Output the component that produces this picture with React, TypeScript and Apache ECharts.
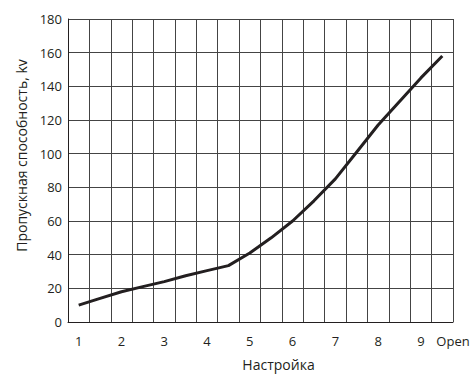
import React, { useEffect, useRef } from "react";
import * as echarts from "echarts";

// Setting positions (half steps) and measured capacity
const settings = ["1", "1.5", "2", "2.5", "3", "3.5", "4", "4.5", "5", "5.5", "6", "6.5", "7", "7.5", "8", "8.5", "9", "9.5"];
const capacity = [10, 14, 18, 21, 24, 27.5, 30.5, 33.5, 41, 50, 60, 72, 85, 101, 117, 131, 145, 158];
const openLabel = "Open";
const openPosition = 9.75;
const xName = "Настройка";
const yName = "Пропускная способность, kv";
const yMin = 0;
const yMax = 180;
const yStep = 20;

const TEXT = "#231f20";
const GRID = "#444444";
const FONT = "'Open Sans', sans-serif";

export default function App() {
  const ref = useRef<HTMLDivElement>(null);
  useEffect(() => {
    if (!ref.current) return;
    const chart = echarts.init(ref.current, undefined, { renderer: "svg" });
    chart.setOption({
      animation: false,
      backgroundColor: "#ffffff",
      grid: { left: 68, right: 17, top: 19, bottom: 52, containLabel: false, outerBoundsMode: "none" },
      xAxis: [
        {
          type: "category",
          data: settings,
          boundaryGap: true,
          axisLine: { show: true, lineStyle: { color: TEXT, width: 1 } },
          axisTick: { show: false },
          splitLine: { show: true, interval: 0, lineStyle: { color: GRID, width: 1 } },
          axisLabel: {
            interval: 0,
            margin: 12,
            color: TEXT,
            fontSize: 13,
            fontFamily: FONT,
            formatter: (v: string) => (Number.isInteger(Number(v)) ? v : ""),
          },
          name: xName,
          nameLocation: "middle",
          nameGap: 35,
          nameTextStyle: { color: TEXT, fontSize: 14, fontFamily: FONT, padding: [0, 0, 0, 36] },
        },
        {
          type: "value",
          min: 0.75,
          max: openPosition,
          position: "bottom",
          axisLine: { show: false },
          axisTick: { show: false },
          splitLine: { show: false },
          axisLabel: {
            margin: 12,
            color: TEXT,
            fontSize: 13,
            fontFamily: FONT,
            showMaxLabel: true,
            formatter: (v: number) => (Math.abs(v - openPosition) < 1e-6 ? openLabel : ""),
          },
        },
      ],
      yAxis: {
        type: "value",
        min: yMin,
        max: yMax,
        interval: yStep,
        axisLine: { show: true, lineStyle: { color: TEXT, width: 1 } },
        axisTick: { show: false },
        splitLine: { show: true, lineStyle: { color: GRID, width: 1 } },
        axisLabel: { margin: 6, color: TEXT, fontSize: 13, fontFamily: FONT },
        name: yName,
        nameLocation: "middle",
        nameGap: 40,
        nameTextStyle: { color: TEXT, fontSize: 14, fontFamily: FONT, padding: [0, 0, 0, 30] },
      },
      series: [
        {
          type: "line",
          xAxisIndex: 0,
          data: capacity,
          symbol: "none",
          lineStyle: { color: TEXT, width: 3 },
          z: 5,
        },
      ],
    });
    return () => chart.dispose();
  }, []);
  return <div ref={ref} style={{ position: "fixed", left: 0, top: 0, width: 470, height: 374 }} />;
}
